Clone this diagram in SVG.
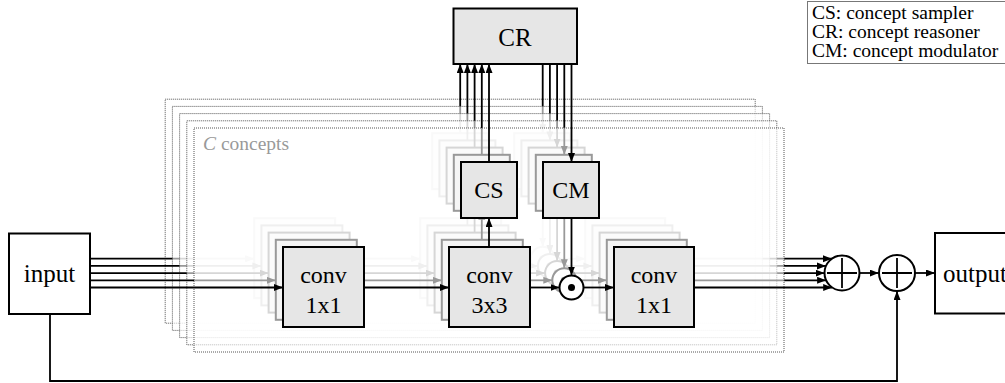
<svg xmlns="http://www.w3.org/2000/svg" width="1005" height="383" viewBox="0 0 1005 383">
<defs>
<marker id="ah" markerUnits="userSpaceOnUse" markerWidth="10" markerHeight="8" refX="9" refY="3.5" orient="auto">
<path d="M0,0 L9,3.5 L0,7 z" fill="#000"/>
</marker>
<style>
.box{fill:#e6e6e6;stroke:#000;stroke-width:2}
.io{fill:#fff;stroke:#000;stroke-width:2}
.frame{fill:#fff;fill-opacity:0.6;stroke:#555;stroke-width:1;stroke-dasharray:1 1}
.con{fill:none;stroke:#000;stroke-width:1.8;marker-end:url(#ah)}
.line{fill:none;stroke:#000;stroke-width:1.8}
.circ{fill:#fff;stroke:#000;stroke-width:2}
.t{font-family:"Liberation Serif","Times New Roman",serif;fill:#000;text-anchor:middle}
.leg{font-family:"Liberation Serif","Times New Roman",serif;fill:#000;font-size:19.5px}
</style>
</defs>
<rect width="1005" height="383" fill="#fff"/>

<!-- copy 4 (back) -->
<g id="copy4">
<rect class="frame" x="165.2" y="99.2" width="590" height="224"/>
<g id="connectors4">
<path class="con" d="M90,258.7 H254.2"/>
<path class="con" d="M335.2,258.7 H420.2"/>
<path class="con" d="M501.2,258.7 H530.7"/>
<path class="con" d="M554.7,258.7 H585.2"/>
<path class="con" d="M665.2,258.7 H831.9"/>
<path class="con" d="M460.2,218.2 V189.2"/>
<path class="con" d="M542.7,189.2 V246.7"/>
<path class="con" d="M460.2,133.2 V64"/>
<path class="con" d="M542.7,64 V133.2"/>
</g>
<g id="conv1-4"><rect class="box" x="254.2" y="218.2" width="81" height="80"/></g>
<g id="conv3-4"><rect class="box" x="420.2" y="218.2" width="81" height="80"/></g>
<g id="conv1r-4"><rect class="box" x="585.2" y="218.2" width="80" height="80"/></g>
<g id="cs-4"><rect class="box" x="432.2" y="133.2" width="56" height="56"/></g>
<g id="cm-4"><rect class="box" x="514.2" y="133.2" width="56" height="56"/></g>
<g id="odot-4"><circle class="circ" cx="542.7" cy="258.7" r="12"/><circle cx="542.7" cy="258.7" r="3.5"/></g>
</g>

<!-- copy 3 -->
<g id="copy3">
<rect class="frame" x="172.4" y="106.4" width="590" height="224"/>
<g id="connectors3">
<path class="con" d="M90,265.9 H261.4"/>
<path class="con" d="M342.4,265.9 H427.4"/>
<path class="con" d="M508.4,265.9 H537.9"/>
<path class="con" d="M561.9,265.9 H592.4"/>
<path class="con" d="M672.4,265.9 H826"/>
<path class="con" d="M467.4,225.4 V196.4"/>
<path class="con" d="M549.9,196.4 V253.9"/>
<path class="con" d="M467.4,140.4 V64"/>
<path class="con" d="M549.9,64 V140.4"/>
</g>
<g id="conv1-3"><rect class="box" x="261.4" y="225.4" width="81" height="80"/></g>
<g id="conv3-3"><rect class="box" x="427.4" y="225.4" width="81" height="80"/></g>
<g id="conv1r-3"><rect class="box" x="592.4" y="225.4" width="80" height="80"/></g>
<g id="cs-3"><rect class="box" x="439.4" y="140.4" width="56" height="56"/></g>
<g id="cm-3"><rect class="box" x="521.4" y="140.4" width="56" height="56"/></g>
<g id="odot-3"><circle class="circ" cx="549.9" cy="265.9" r="12"/><circle cx="549.9" cy="265.9" r="3.5"/></g>
</g>

<!-- copy 2 -->
<g id="copy2">
<rect class="frame" x="179.6" y="113.6" width="590" height="224"/>
<g id="connectors2">
<path class="con" d="M90,273.1 H268.6"/>
<path class="con" d="M349.6,273.1 H434.6"/>
<path class="con" d="M515.6,273.1 H545.1"/>
<path class="con" d="M569.1,273.1 H599.6"/>
<path class="con" d="M679.6,273.1 H824.5"/>
<path class="con" d="M474.6,232.6 V203.6"/>
<path class="con" d="M557.1,203.6 V261.1"/>
<path class="con" d="M474.6,147.6 V64"/>
<path class="con" d="M557.1,64 V147.6"/>
</g>
<g id="conv1-2"><rect class="box" x="268.6" y="232.6" width="81" height="80"/></g>
<g id="conv3-2"><rect class="box" x="434.6" y="232.6" width="81" height="80"/></g>
<g id="conv1r-2"><rect class="box" x="599.6" y="232.6" width="80" height="80"/></g>
<g id="cs-2"><rect class="box" x="446.6" y="147.6" width="56" height="56"/></g>
<g id="cm-2"><rect class="box" x="528.6" y="147.6" width="56" height="56"/></g>
<g id="odot-2"><circle class="circ" cx="557.1" cy="273.1" r="12"/><circle cx="557.1" cy="273.1" r="3.5"/></g>
</g>

<!-- copy 1 -->
<g id="copy1">
<rect class="frame" x="186.8" y="120.8" width="590" height="224"/>
<g id="connectors1">
<path class="con" d="M90,280.3 H275.8"/>
<path class="con" d="M356.8,280.3 H441.8"/>
<path class="con" d="M522.8,280.3 H552.3"/>
<path class="con" d="M576.3,280.3 H606.8"/>
<path class="con" d="M686.8,280.3 H826.1"/>
<path class="con" d="M481.8,239.8 V210.8"/>
<path class="con" d="M564.3,210.8 V268.3"/>
<path class="con" d="M481.8,154.8 V64"/>
<path class="con" d="M564.3,64 V154.8"/>
</g>
<g id="conv1-1"><rect class="box" x="275.8" y="239.8" width="81" height="80"/></g>
<g id="conv3-1"><rect class="box" x="441.8" y="239.8" width="81" height="80"/></g>
<g id="conv1r-1"><rect class="box" x="606.8" y="239.8" width="80" height="80"/></g>
<g id="cs-1"><rect class="box" x="453.8" y="154.8" width="56" height="56"/></g>
<g id="cm-1"><rect class="box" x="535.8" y="154.8" width="56" height="56"/></g>
<g id="odot-1"><circle class="circ" cx="564.3" cy="280.3" r="12"/><circle cx="564.3" cy="280.3" r="3.5"/></g>
</g>

<!-- copy 0 (front) -->
<g id="copy0">
<rect class="frame" x="194" y="128" width="590" height="224"/>
<text x="203" y="150" font-family="Liberation Serif, serif" font-size="19.5" fill="#999"><tspan font-style="italic">C</tspan> concepts</text>
<g id="connectors0">
<path class="con" d="M90,287.5 H283"/>
<path class="con" d="M364,287.5 H449"/>
<path class="con" d="M530,287.5 H559.5"/>
<path class="con" d="M583.5,287.5 H614"/>
<path class="con" d="M694,287.5 H832.2"/>
<path class="con" d="M489,247 V218"/>
<path class="con" d="M571.5,218 V275.5"/>
<path class="con" d="M489,162 V64"/>
<path class="con" d="M571.5,64 V162"/>
</g>
<g id="conv1"><rect class="box" x="283" y="247" width="81" height="80"/><text class="t" x="323.5" y="283" font-size="24">conv</text><text class="t" x="323.5" y="313" font-size="24">1x1</text></g>
<g id="conv3"><rect class="box" x="449" y="247" width="81" height="80"/><text class="t" x="489.5" y="283" font-size="24">conv</text><text class="t" x="489.5" y="313" font-size="24">3x3</text></g>
<g id="conv1r"><rect class="box" x="614" y="247" width="80" height="80"/><text class="t" x="654" y="283" font-size="24">conv</text><text class="t" x="654" y="313" font-size="24">1x1</text></g>
<g id="cs"><rect class="box" x="461" y="162" width="56" height="56"/><text class="t" x="489" y="198" font-size="24">CS</text></g>
<g id="cm"><rect class="box" x="543" y="162" width="56" height="56"/><text class="t" x="571" y="198" font-size="24">CM</text></g>
<g id="odot"><circle class="circ" cx="571.5" cy="287.5" r="12"/><circle cx="571.5" cy="287.5" r="3.5"/></g>
</g>

<!-- outer connectors -->
<g id="connectors">
<path class="con" d="M859.5,273 H878.7"/>
<path class="con" d="M915,273 H935"/>
<path class="con" d="M50,314 V381 H897 V291"/>
</g>

<g id="cr"><rect class="box" x="453.5" y="8.5" width="123.5" height="55.5"/><text class="t" x="515" y="46" font-size="25">CR</text></g>
<g id="input"><rect class="io" x="9" y="233.5" width="81" height="80.5"/><text class="t" x="49.5" y="282" font-size="25">input</text></g>
<g id="output"><rect class="io" x="935" y="233" width="90" height="80.5"/><text x="943" y="282" font-family="Liberation Serif, serif" font-size="25">output</text></g>
<g id="plus1"><circle class="circ" cx="842" cy="273" r="17.5"/><path class="line" d="M827,273 H857 M842,258 V288"/></g>
<g id="plus2"><circle class="circ" cx="897" cy="273" r="18"/><path class="line" d="M882,273 H912 M897,258 V288"/></g>

<g id="legend">
<rect x="807.5" y="1.5" width="210" height="62" fill="#fff" stroke="#777" stroke-width="1"/>
<text class="leg" x="812" y="19">CS: concept sampler</text>
<text class="leg" x="812" y="38">CR: concept reasoner</text>
<text class="leg" x="812" y="57">CM: concept modulator</text>
</g>
</svg>
